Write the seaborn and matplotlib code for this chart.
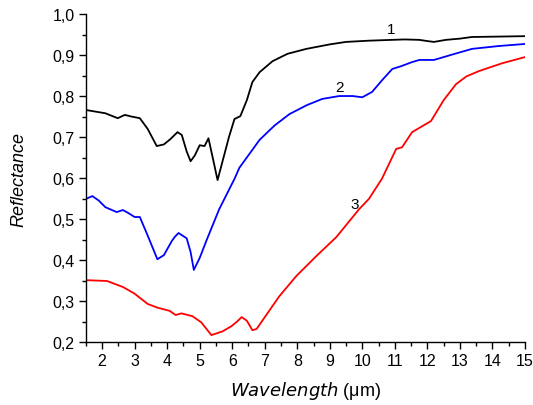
import numpy as np
import pandas as pd
import matplotlib
matplotlib.use("Agg")
import matplotlib.pyplot as plt
import seaborn as sns
from matplotlib.ticker import MultipleLocator, FuncFormatter

# Curve 1 (black)
wl_1 = [1.5, 1.8, 2.1, 2.48, 2.7, 2.9, 3.16, 3.4, 3.68, 3.9, 4.1, 4.32, 4.45, 4.6, 4.72,
        4.85, 5.0, 5.15, 5.27, 5.4, 5.55, 5.7, 5.9, 6.07, 6.25, 6.45, 6.62, 6.84, 7.24,
        7.7, 8.28, 9.0, 9.5, 10.2, 10.92, 11.3, 11.75, 12.0, 12.2, 12.57, 13.0, 13.37,
        14.2, 15.0]
refl_1 = [0.766, 0.762, 0.758, 0.746, 0.754, 0.750, 0.746, 0.720, 0.678, 0.682, 0.695,
          0.712, 0.705, 0.665, 0.641, 0.655, 0.680, 0.678, 0.697, 0.650, 0.595, 0.640,
          0.700, 0.744, 0.751, 0.790, 0.834, 0.858, 0.885, 0.903, 0.915, 0.926, 0.932,
          0.935, 0.937, 0.938, 0.937, 0.934, 0.932, 0.937, 0.940, 0.944, 0.945, 0.946]

# Curve 2 (blue)
wl_2 = [1.5, 1.7, 1.9, 2.1, 2.45, 2.64, 2.8, 3.0, 3.16, 3.4, 3.7, 3.9, 4.14, 4.23, 4.35,
        4.6, 4.72, 4.82, 5.0, 5.2, 5.6, 6.07, 6.22, 6.84, 7.3, 7.76, 8.3, 8.77, 9.29,
        9.7, 10.0, 10.3, 10.6, 10.92, 11.2, 11.5, 11.75, 12.2, 12.8, 13.37, 14.2, 15.0]
refl_2 = [0.549, 0.556, 0.545, 0.529, 0.517, 0.522, 0.515, 0.505, 0.505, 0.460, 0.402,
          0.412, 0.446, 0.456, 0.466, 0.453, 0.420, 0.376, 0.405, 0.446, 0.524, 0.598,
          0.625, 0.693, 0.728, 0.756, 0.778, 0.793, 0.800, 0.800, 0.797, 0.810, 0.838,
          0.866, 0.873, 0.882, 0.888, 0.888, 0.902, 0.915, 0.922, 0.927]

# Curve 3 (red)
wl_3 = [1.5, 2.15, 2.65, 3.0, 3.4, 3.7, 4.08, 4.26, 4.44, 4.78, 5.05, 5.36, 5.7, 5.98,
        6.15, 6.29, 6.45, 6.62, 6.75, 7.45, 7.97, 8.59, 9.2, 9.9, 10.2, 10.6, 11.04,
        11.22, 11.53, 12.11, 12.5, 12.88, 13.2, 13.59, 14.3, 15.0]
refl_3 = [0.351, 0.349, 0.334, 0.318, 0.293, 0.284, 0.276, 0.266, 0.270, 0.263, 0.248,
          0.217, 0.226, 0.239, 0.250, 0.261, 0.252, 0.229, 0.232, 0.312, 0.361, 0.410,
          0.456, 0.524, 0.549, 0.598, 0.671, 0.675, 0.712, 0.739, 0.790, 0.829, 0.848,
          0.861, 0.880, 0.895]

curves = [
    ("1", wl_1, refl_1, "black", (10.9, 0.963)),
    ("2", wl_2, refl_2, "#0000ff", (9.29, 0.822)),
    ("3", wl_3, refl_3, "#ff0000", (9.75, 0.537)),
]

sns.set_style("ticks")
plt.rcParams['font.family'] = ['Liberation Sans', 'DejaVu Sans']
plt.rcParams['text.color'] = 'black'
plt.rcParams['axes.labelcolor'] = 'black'

fig = plt.figure(figsize=(5.33, 4.06), dpi=100)
ax = fig.add_axes([0.161, 0.155, 0.824, 0.808])

for name, wl, refl, color, lab in curves:
    df = pd.DataFrame({'wavelength': wl, 'reflectance': refl})
    sns.lineplot(data=df, x='wavelength', y='reflectance', color=color,
                 linewidth=1.3, sort=False, estimator=None, ax=ax)
    ax.text(lab[0], lab[1], name, fontsize=11, ha='center', va='center', color='black')

ax.set_xlim(1.5, 15)
ax.set_ylim(0.2, 1.0)
ax.xaxis.set_major_locator(MultipleLocator(1))
ax.xaxis.set_minor_locator(MultipleLocator(0.5))
ax.yaxis.set_major_locator(MultipleLocator(0.1))
ax.yaxis.set_minor_locator(MultipleLocator(0.05))
ax.yaxis.set_major_formatter(FuncFormatter(lambda v, p: f"{v:.1f}".replace('.', ',')))
ax.xaxis.set_major_formatter(FuncFormatter(lambda v, p: f"{v:.0f}"))
ax.tick_params(which='major', length=5, width=1, labelsize=11.5, direction='out', pad=3,
               color='black', labelcolor='black')
ax.tick_params(which='minor', length=3, width=1, direction='out', color='black')

for s in ['top', 'right']:
    ax.spines[s].set_visible(False)
for s in ['left', 'bottom']:
    ax.spines[s].set_linewidth(1)
    ax.spines[s].set_color('black')

ax.set_xlabel(r'$\it{Wavelength}$ ($\mathregular{\mu}$m)', fontsize=13)
ax.set_ylabel('Reflectance', fontsize=13, style='italic')
ax.xaxis.set_label_coords(0.5, -0.113)
ax.yaxis.set_label_coords(-0.134, 0.5)

fig.savefig('out.png', dpi=100)
